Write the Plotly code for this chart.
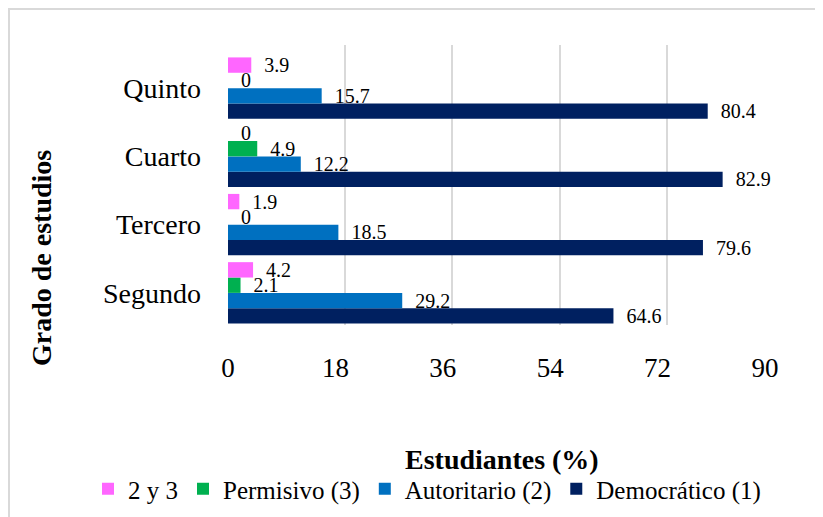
import plotly.graph_objects as go

categories = ["Segundo", "Tercero", "Cuarto", "Quinto"]
democratico = [64.6, 79.6, 82.9, 80.4]
autoritario = [29.2, 18.5, 12.2, 15.7]
permisivo = [2.1, 0, 4.9, 0]
dos_y_tres = [4.2, 1.9, 0, 3.9]
x_ticks = [0, 18, 36, 54, 72, 90]

series = [
    ("Democrático (1)", democratico, "#002060"),
    ("Autoritario (2)", autoritario, "#0070C0"),
    ("Permisivo (3)", permisivo, "#00B050"),
    ("2 y 3", dos_y_tres, "#FF66FF"),
]

W, H = 823, 517
OFF = 8  # page body margin offset
FONT = "Liberation Serif"

fig = go.Figure()

# empty trace to create the back-wall grid subplot
fig.add_trace(go.Scatter(x=[], y=[], xaxis="x", yaxis="y", showlegend=False, hoverinfo="skip"))

for name, vals, col in series:
    fig.add_trace(go.Bar(
        y=categories, x=vals, name=name, orientation="h",
        marker=dict(color=col, line=dict(width=0)),
        text=vals, texttemplate="  %{x}", textposition="outside",
        textfont=dict(family=FONT, size=20, color="black"),
        constraintext="none",
        cliponaxis=False,
        xaxis="x2", yaxis="y2",
    ))

def px_x(p):
    return (p - OFF) / W

def px_y(p):
    return 1 - (p - OFF) / H

fig.update_layout(
    width=W, height=H,
    margin=dict(l=0, r=0, t=0, b=0, pad=0, autoexpand=False),
    paper_bgcolor="white", plot_bgcolor="rgba(0,0,0,0)",
    font=dict(family=FONT, color="black"),
    barmode="group", bargap=0.1, bargroupgap=0,
    # back wall grid
    xaxis=dict(domain=[px_x(237.5), px_x(774.5)], range=[0, 90], tickvals=x_ticks,
               showgrid=True, gridcolor="#d9d9d9", gridwidth=1.5,
               showticklabels=False, zeroline=False, showline=False, anchor="y"),
    yaxis=dict(domain=[px_y(325), px_y(45)], range=[0, 1], visible=False,
               showgrid=False, anchor="x"),
    # bars axes
    xaxis2=dict(domain=[px_x(228), px_x(765)], range=[0, 90], tickvals=x_ticks,
                showgrid=False, zeroline=False, showline=False, anchor="y2",
                tickfont=dict(family=FONT, size=27, color="black"),
                ticks="", ticklabelstandoff=22),
    yaxis2=dict(domain=[px_y(327), px_y(54)], range=[-0.5, 3.5], anchor="x2",
                type="category", categoryorder="array", categoryarray=categories,
                showgrid=False, zeroline=False, showline=False,
                tickfont=dict(family=FONT, size=28, color="black"),
                ticks="", ticklabelstandoff=26),
    legend=dict(orientation="h", x=px_x(427), xanchor="center", y=px_y(489), yanchor="middle",
                traceorder="reversed", font=dict(family=FONT, size=25, color="black"),
                itemsizing="constant", bgcolor="rgba(0,0,0,0)"),
    annotations=[
        dict(text="<b>Grado de estudios</b>", xref="paper", yref="paper",
             x=px_x(41), y=px_y(258), textangle=-90, showarrow=False,
             font=dict(family=FONT, size=28, color="black"), xanchor="center", yanchor="middle"),
        dict(text="<b>Estudiantes (%)</b>", xref="paper", yref="paper",
             x=px_x(502), y=px_y(459), showarrow=False,
             font=dict(family=FONT, size=28, color="black"), xanchor="center", yanchor="middle"),
    ],
    shapes=[
        dict(type="rect", xref="paper", yref="paper", x0=px_x(9), x1=1.2, y0=-0.2, y1=px_y(9),
             line=dict(color="#d9d9d9", width=2), fillcolor="rgba(0,0,0,0)", layer="below"),
    ],
    showlegend=True,
)

fig.write_html("out.html")
